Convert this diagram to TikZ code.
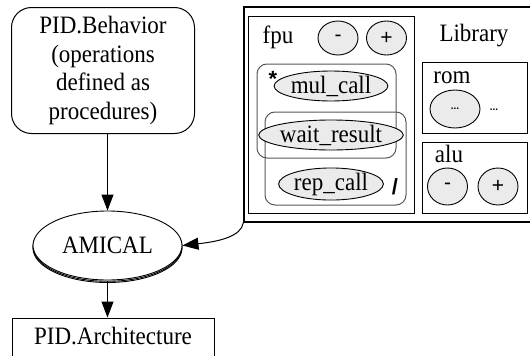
\documentclass[tikz,border=0pt]{standalone}
\usepackage{fontspec}
\setmainfont{Liberation Serif}[FakeStretch=0.92]
\newfontfamily\sansf{Liberation Sans}
\usetikzlibrary{shapes.geometric,arrows.meta,calc}
\tikzset{
  lbl/.style={font=\fontsize{25}{28.5}\selectfont, inner sep=0pt},
  plainbox/.style={draw=black, line width=1pt, fill=white, inner sep=0pt},
  grp/.style={draw=black!65, line width=1pt, rounded corners=10pt, inner sep=0pt},
  op/.style={ellipse, draw=black, line width=0.9pt, fill=black!8, inner sep=0pt, font=\fontsize{25}{28.5}\selectfont},
  pm/.style={ellipse, draw=black, line width=0.9pt, fill=black!8, inner sep=0pt, minimum width=40pt, minimum height=34pt, font=\sansf\fontsize{21}{24}\selectfont},
  arr/.style={draw=black, line width=1pt, -{Triangle[length=16pt,width=12pt]}},
}
\begin{document}
\begin{tikzpicture}[x=1pt,y=-1pt]
\useasboundingbox (0,0) rectangle (530,356);
\clip (0,0) rectangle (530,356);
% left column
\node[plainbox, rounded corners=20pt, minimum width=183pt, minimum height=126pt, align=center, lbl] (beh) at (103,70.5)
  {PID.Behavior\\(operations\\defined as\\procedures)};
\node[ellipse, draw=black, line width=0.9pt, minimum width=149pt, minimum height=69pt] (amish2) at (107.5,248) {};
\node[ellipse, draw=black, line width=0.9pt, minimum width=149pt, minimum height=69pt] (amish1) at (107.5,246.8) {};
\node[ellipse, draw=black, line width=0.9pt, fill=white, minimum width=149pt, minimum height=69pt, lbl] (ami) at (107.5,245.5) {AMICAL};
\node[plainbox, minimum width=202pt, minimum height=60pt] (arch) at (113,348) {};
\node[lbl] (archtxt) at (113,335.5) {PID.Architecture};
\draw[arr] (ami.north |- beh.south) -- (ami.north);
\draw[arr] (amish2.south) -- (amish2.south |- arch.north);
% right: outer container
\node[plainbox, line width=1.3pt, minimum width=301pt, minimum height=215pt] (outer) at (394.5,114.5) {};
\node[plainbox, minimum width=166pt, minimum height=197pt] (fpu) at (331,114.5) {};
\node[lbl, anchor=base] (fputxt) at (278,43) {fpu};
\node[pm] (fm) at (338,38) {-};
\node[pm] (fp) at (386.5,38) {+};
\node[lbl, anchor=base] (libtxt) at (474,41) {Library};
% groups
\node[grp, minimum width=139pt, minimum height=94pt] (g1) at (326.5,111) {};
\node[grp, minimum width=141pt, minimum height=93pt] (g2) at (335.5,158.5) {};
\node[op, minimum width=96pt, minimum height=30pt] (mul) at (331,86) {mul\_call};
\node[op, minimum width=123pt, minimum height=30pt] (wait) at (331,135) {wait\_result};
\node[op, minimum width=96pt, minimum height=32pt] (rep) at (331,184) {rep\_call};
\node[font=\sansf\bfseries\fontsize{22}{24}\selectfont, inner sep=0pt] (star) at (273,79) {*};
\node[font=\sansf\bfseries\fontsize{22}{24}\selectfont, inner sep=0pt] (slash) at (395,187) {/};
% library boxes
\node[plainbox, minimum width=105pt, minimum height=71pt] (rom) at (474.5,97.5) {};
\node[lbl, anchor=base] (romtxt) at (452,83) {rom};
\node[op, minimum width=50pt, minimum height=38pt, font=\sansf\bfseries\fontsize{10}{12}\selectfont] (romop) at (455,109) {...};
\node[font=\sansf\bfseries\fontsize{10}{12}\selectfont, inner sep=0pt] (romdots) at (494,110) {...};
\node[plainbox, minimum width=105pt, minimum height=71pt] (alu) at (474.5,177.5) {};
\node[lbl, anchor=base] (alutxt) at (449,162) {alu};
\node[pm, minimum height=37pt] (am) at (447.5,186.5) {-};
\node[pm, minimum height=37pt] (ap) at (498,186.5) {+};
% curved connector
\draw[arr] (outer.south west) .. controls ($(outer.south west)+(-2,14)$) and ($(ami.east)+(36,-4)$) .. (ami.east);
\end{tikzpicture}
\end{document}
